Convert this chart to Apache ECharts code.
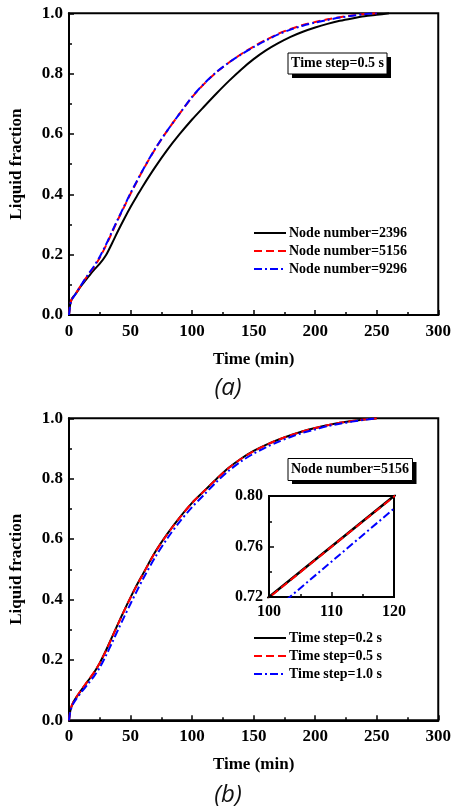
<!DOCTYPE html>
<html>
<head>
<meta charset="utf-8">
<script src="https://cdn.jsdelivr.net/npm/echarts@6/dist/echarts.min.js"></script>
<style>
html,body{margin:0;padding:0;background:#fff;}
#chart{width:454px;height:808px;}
</style>
</head>
<body>
<div id="chart"></div>
<script>
// ---- Data (a): Time step = 0.5 s ----
var timeA = [0,1,2,3,5,10,15,20,25,30,35,40,45,50,55,60,70,80,90,100,110,120,130,140,150,160,170,180,190,200,210,220,230,240,250,260];
var node2396 = [0,0.035,0.05,0.058,0.068,0.097,0.123,0.148,0.17,0.198,0.238,0.28,0.32,0.358,0.393,0.427,0.49,0.548,0.6,0.648,0.692,0.735,0.776,0.814,0.848,0.877,0.901,0.922,0.939,0.953,0.965,0.975,0.983,0.99,0.995,1.0];
var timeB = [0,1,2,3,5,10,15,20,25,30,35,40,45,50,55,60,70,80,90,100,110,120,130,140,150,160,170,180,190,200,210,220,230,240,250];
var node5156 = [0,0.035,0.05,0.057,0.068,0.1,0.13,0.157,0.19,0.23,0.274,0.318,0.36,0.402,0.441,0.48,0.55,0.612,0.668,0.722,0.767,0.805,0.837,0.865,0.89,0.912,0.932,0.948,0.961,0.971,0.98,0.987,0.993,0.998,1.0];
var node9296 = [0,0.033,0.048,0.056,0.067,0.1,0.131,0.16,0.193,0.233,0.277,0.32,0.362,0.404,0.443,0.481,0.551,0.612,0.668,0.723,0.768,0.806,0.837,0.864,0.888,0.91,0.93,0.946,0.959,0.969,0.978,0.986,0.992,0.997,1.0];

// ---- Data (b): Node number = 5156 ----
var step02 = [0,0.03,0.045,0.055,0.07,0.1,0.128,0.156,0.19,0.231,0.276,0.321,0.365,0.407,0.447,0.484,0.557,0.618,0.672,0.72,0.76,0.80,0.837,0.867,0.892,0.912,0.929,0.944,0.957,0.968,0.977,0.985,0.991,0.996,1.0];
var step05 = [0,0.031,0.046,0.056,0.071,0.101,0.129,0.157,0.19,0.23,0.275,0.32,0.364,0.406,0.446,0.483,0.556,0.617,0.671,0.7195,0.7598,0.7995,0.836,0.866,0.891,0.911,0.929,0.944,0.957,0.968,0.977,0.985,0.991,0.996,1.0];
var step10 = [0,0.028,0.042,0.052,0.065,0.093,0.118,0.144,0.175,0.214,0.257,0.301,0.344,0.386,0.427,0.467,0.54,0.603,0.658,0.706,0.748,0.79,0.827,0.858,0.883,0.904,0.922,0.938,0.952,0.963,0.974,0.982,0.989,0.995,1.0];

var namesA = ['Node number=2396','Node number=5156','Node number=9296'];
var namesB = ['Time step=0.2 s','Time step=0.5 s','Time step=1.0 s'];

function pairs(t, v){ return t.map(function(x,i){ return [x, v[i]]; }); }

var FONT = 'Liberation Serif';
var lbl = {color:'#000', fontFamily:FONT, fontWeight:'bold', fontSize:17};
function xAx(grid, min, max, interval, name, labelSize, margin){
  return {
    type:'value', gridIndex:grid, min:min, max:max, interval:interval,
    name:name, nameLocation:'middle', nameGap:36,
    nameTextStyle:{color:'#000', fontFamily:FONT, fontWeight:'bold', fontSize:17},
    axisLine:{show:true, onZero:false, lineStyle:{color:'#000', width:2}},
    axisTick:{show:true, inside:true, length:5, lineStyle:{color:'#000', width:1.5}},
    minorTick:{show:true, splitNumber:2, length:3, lineStyle:{color:'#000', width:1.5}},
    splitLine:{show:false},
    axisLabel:Object.assign({}, lbl, {fontSize:labelSize, margin:margin})
  };
}
function yAx(grid, min, max, interval, name, labelSize, digits, margin){
  return {
    type:'value', gridIndex:grid, min:min, max:max, interval:interval,
    name:name, nameLocation:'middle', nameGap:44,
    nameTextStyle:{color:'#000', fontFamily:FONT, fontWeight:'bold', fontSize:17},
    axisLine:{show:true, onZero:false, lineStyle:{color:'#000', width:2}},
    axisTick:{show:true, inside:true, length:5, lineStyle:{color:'#000', width:1.5}},
    minorTick:{show:true, splitNumber:2, length:3, lineStyle:{color:'#000', width:1.5}},
    splitLine:{show:false},
    axisLabel:Object.assign({}, lbl, {fontSize:labelSize, margin:margin, formatter:function(v){return v.toFixed(digits);}})
  };
}
function line(name, data, color, type, xi, w){
  return {
    type:'line', name:name, data:data, xAxisIndex:xi, yAxisIndex:xi,
    symbol:'none', smooth:0.3, clip:true, silent:true,
    lineStyle:{color:color, width:w||2, type:type},
    itemStyle:{color:color}
  };
}
var dashRed = [8,4];
var dashBlue = [8,3,2,3];

var legendCommon = {
  orient:'vertical', left:253, itemWidth:32, itemHeight:14, itemGap:4,
  itemStyle:{opacity:0},
  textStyle:{color:'#000', fontFamily:FONT, fontWeight:'bold', fontSize:14, padding:[0,0,0,-2]},
  padding:0, selectedMode:false
};

var chart = echarts.init(document.getElementById('chart'), null, {renderer:'canvas'});
var option = {
  animation:false,
  backgroundColor:'#fff',
  grid:[
    {left:64.5, top:13.3, width:376.5, height:301.7, show:true, borderColor:'#000', borderWidth:2},
    {left:64.5, top:418.3, width:376.5, height:302, show:true, borderColor:'#000', borderWidth:2},
    {left:269, top:496, width:125, height:101, show:true, borderColor:'#000', borderWidth:2, backgroundColor:'#fff', z:5}
  ],
  xAxis:[
    xAx(0, 0, 300, 50, 'Time (min)', 17, 8),
    xAx(1, 0, 300, 50, 'Time (min)', 17, 8),
    Object.assign(xAx(2, 100, 120, 10, '', 16, 7), {z:6})
  ],
  yAxis:[
    yAx(0, 0, 1, 0.2, 'Liquid fraction', 17, 1, 6),
    yAx(1, 0, 1, 0.2, 'Liquid fraction', 17, 1, 6),
    Object.assign(yAx(2, 0.72, 0.80, 0.04, '', 16, 2, 6), {z:6})
  ],
  legend:[
    Object.assign({}, legendCommon, {data:namesA, top:226}),
    Object.assign({}, legendCommon, {data:namesB, top:631})
  ],
  series:[
    line(namesA[0], pairs(timeA, node2396), '#000000', 'solid', 0),
    line(namesA[1], pairs(timeB, node5156), '#ff0000', dashRed, 0),
    line(namesA[2], pairs(timeB, node9296), '#0000ff', dashBlue, 0),
    line(namesB[0], pairs(timeB, step02), '#000000', 'solid', 1),
    line(namesB[1], pairs(timeB, step05), '#ff0000', dashRed, 1),
    line(namesB[2], pairs(timeB, step10), '#0000ff', dashBlue, 1),
    Object.assign(line(namesB[0], pairs(timeB, step02), '#000000', 'solid', 2, 2.5), {z:7, smooth:false}),
    Object.assign(line(namesB[1], pairs(timeB, step05), '#ff0000', dashRed, 2, 2), {z:7, smooth:false}),
    Object.assign(line(namesB[2], pairs(timeB, step10), '#0000ff', dashBlue, 2, 2), {z:7, smooth:false})
  ],
  graphic:[
    {type:'rect', shape:{x:292, y:57, width:99, height:21}, style:{fill:'#000'}, z:10},
    {type:'rect', shape:{x:288, y:53, width:99, height:21}, style:{fill:'#fff', stroke:'#000', lineWidth:1}, z:11},
    {type:'text', x:337.5, y:63.5, style:{text:'Time step=0.5 s', x:0, y:0, align:'center', verticalAlign:'middle', fill:'#000', font:'bold 14px "Liberation Serif"'}, z:12},
    {type:'rect', shape:{x:292, y:462, width:124.5, height:22}, style:{fill:'#000'}, z:10},
    {type:'rect', shape:{x:288, y:458.5, width:124.5, height:22}, style:{fill:'#fff', stroke:'#000', lineWidth:1}, z:11},
    {type:'text', x:350, y:469.5, style:{text:'Node number=5156', x:0, y:0, align:'center', verticalAlign:'middle', fill:'#000', font:'bold 14px "Liberation Serif"'}, z:12},
    {type:'text', x:228, y:388, style:{text:'(a)', align:'center', verticalAlign:'middle', fill:'#111', font:'italic 24px "Open Sans"'}, z:12},
    {type:'text', x:228, y:795, style:{text:'(b)', align:'center', verticalAlign:'middle', fill:'#111', font:'italic 24px "Open Sans"'}, z:12}
  ]
};
chart.setOption(option);
</script>
</body>
</html>
